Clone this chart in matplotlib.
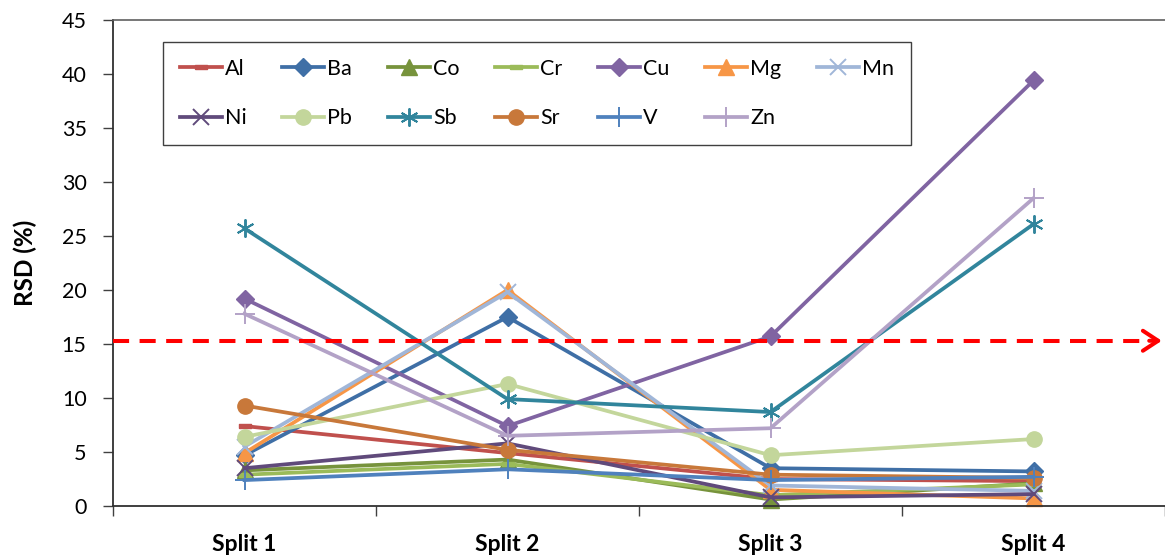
import numpy as np
import matplotlib
matplotlib.use("Agg")
import matplotlib.pyplot as plt

plt.rcParams['font.family'] = ['Lato', 'DejaVu Sans']

# RSD (%) per element for each split
splits = ['Split 1', 'Split 2', 'Split 3', 'Split 4']
elements = ['Al', 'Ba', 'Co', 'Cr', 'Cu', 'Mg', 'Mn',
            'Ni', 'Pb', 'Sb', 'Sr', 'V', 'Zn']

al = [7.4, 4.9, 2.5, 2.3]
ba = [4.7, 17.5, 3.5, 3.2]
co = [3.3, 4.3, 0.6, 2.1]
cr = [2.9, 3.9, 1.0, 2.0]
cu = [19.2, 7.4, 15.7, 39.4]
mg = [4.9, 20.0, 1.5, 0.7]
mn = [5.5, 19.8, 1.9, 1.4]
ni = [3.5, 5.8, 0.8, 1.1]
pb = [6.4, 11.3, 4.7, 6.2]
sb = [25.7, 9.9, 8.7, 26.1]
sr = [9.3, 5.2, 2.9, 2.6]
v = [2.4, 3.4, 2.4, 2.7]
zn = [17.8, 6.5, 7.2, 28.5]

series = [al, ba, co, cr, cu, mg, mn, ni, pb, sb, sr, v, zn]

threshold = 15.3  # acceptance limit line

# short flat bar used as the "dash" marker
dash = [(-1, -0.35), (1, -0.35), (1, 0.35), (-1, 0.35), (-1, -0.35)]

styles = {
    'Al': dict(color='#C0504D', marker=dash, ms=9),
    'Ba': dict(color='#3F6FA6', marker='D', ms=9),
    'Co': dict(color='#77933C', marker='^', ms=11),
    'Cr': dict(color='#9BBB59', marker=dash, ms=9),
    'Cu': dict(color='#8064A2', marker='D', ms=9),
    'Mg': dict(color='#F79646', marker='^', ms=11),
    'Mn': dict(color='#A0B6D8', marker='x', ms=11, mew=1.4),
    'Ni': dict(color='#604A7B', marker='x', ms=11, mew=1.4),
    'Pb': dict(color='#C3D69B', marker='o', ms=11),
    'Sb': dict(color='#31859C', marker=(6, 2, 0), ms=13, mew=1.4),
    'Sr': dict(color='#C8783A', marker='o', ms=11),
    'V': dict(color='#4F81BD', marker='+', ms=14, mew=1.4),
    'Zn': dict(color='#B3A2C7', marker='+', ms=14, mew=1.4),
}

W, H = 1165, 556
fig = plt.figure(figsize=(W / 100, H / 100), dpi=100)
ax = fig.add_axes([113 / W, (H - 506) / H, (W - 113) / W, (506 - 20) / H])

x = np.arange(len(splits))
handles = []
for name, vals in zip(elements, series):
    st = dict(styles[name])
    c = st.pop('color')
    line, = ax.plot(x, vals, color=c, lw=2.7, mfc=c, mec=c,
                    label=name, clip_on=False, **st)
    handles.append(line)

# dashed limit line ending in an open arrow head
ax.plot([-0.5, 3.43], [threshold, threshold], color='#FF0000', lw=2.9,
        dashes=(4, 2.6), solid_capstyle='butt', dash_capstyle='butt',
        clip_on=False, zorder=5)
ax.annotate('', xy=(0.997, threshold), xycoords=('axes fraction', 'data'),
            xytext=(0.985, threshold), textcoords=('axes fraction', 'data'),
            arrowprops=dict(arrowstyle='->, head_length=1.1, head_width=0.72',
                            color='#FF0000', lw=2.9, mutation_scale=10,
                            shrinkA=0, shrinkB=0),
            zorder=5)

ax.set_xlim(-0.5, 3.5)
ax.set_ylim(0, 45)
ax.set_yticks(np.arange(0, 46, 5))
ax.set_xticks(x)
ax.set_xticklabels(splits, fontsize=16.5, fontweight='bold')
ax.set_xticks(np.arange(-0.5, 3.6, 1), minor=True)
ax.tick_params(axis='x', which='major', length=0, pad=20)
ax.tick_params(axis='x', which='minor', length=7, width=1, direction='out',
               color='#404040')
ax.tick_params(axis='y', length=7, width=1, direction='out', labelsize=15.5,
               pad=12, color='#404040')
ax.set_ylabel('RSD (%)', fontsize=17.5, fontweight='bold', labelpad=18)

for s in ['left', 'bottom']:
    ax.spines[s].set_color('#303030')
    ax.spines[s].set_linewidth(1.3)
ax.spines['top'].set_color('#606060')
ax.spines['top'].set_linewidth(1.2)
ax.spines['right'].set_visible(False)

# legend filled row by row (matplotlib fills by column)
order = [0, 7, 1, 8, 2, 9, 3, 10, 4, 11, 5, 12, 6]
leg = ax.legend([handles[i] for i in order], [elements[i] for i in order],
                ncol=7, loc='upper left',
                bbox_to_anchor=((163 - 113) / (W - 113), (506 - 42) / 486),
                borderaxespad=0, fontsize=15.5, handlelength=1.95,
                handletextpad=0.15, columnspacing=1.65, labelspacing=1.38,
                borderpad=0.78, frameon=True, fancybox=False, framealpha=1,
                edgecolor='#404040')
leg.get_frame().set_linewidth(1.0)

fig.savefig('out.png', dpi=100)
